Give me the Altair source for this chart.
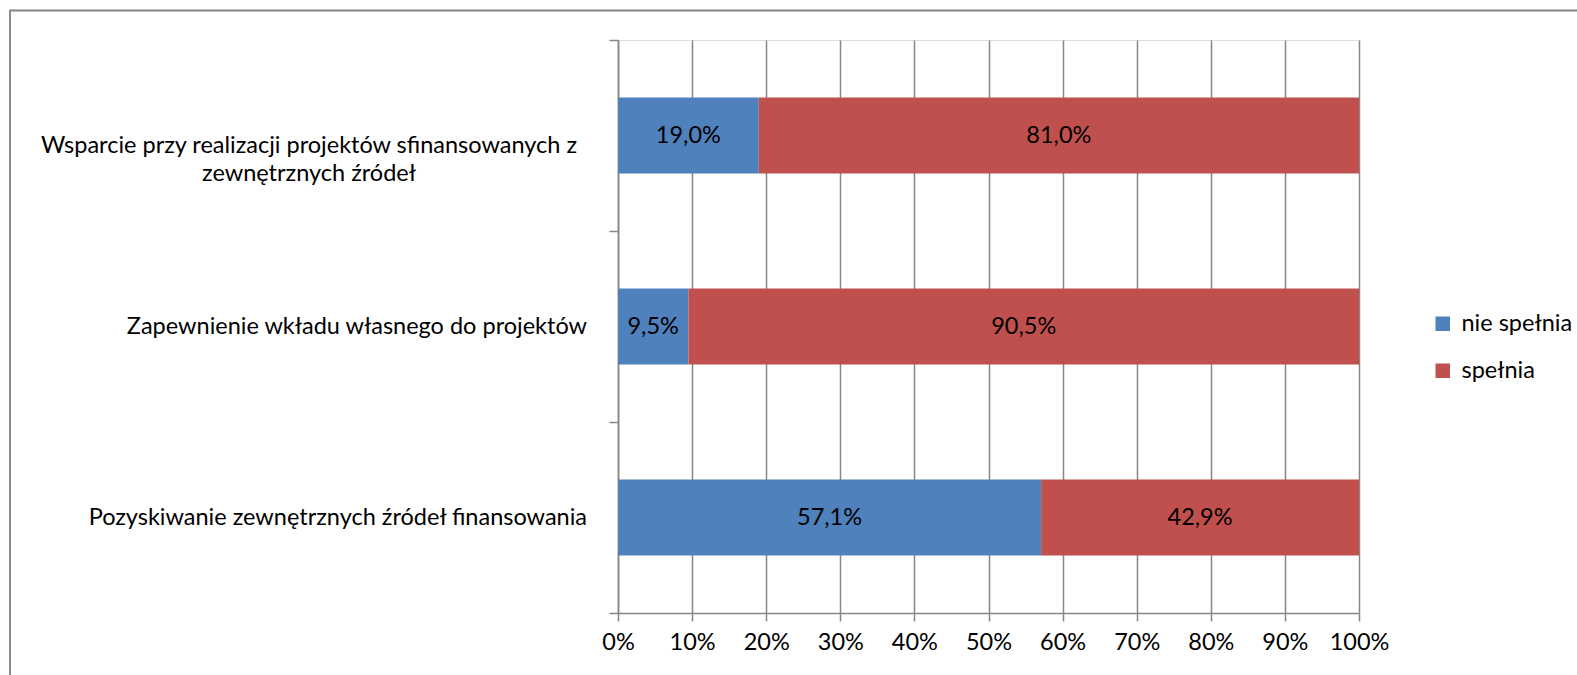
import altair as alt
import pandas as pd

categories = [
    "Wsparcie przy realizacji projektów sfinansowanych z\nzewnętrznych źródeł",
    "Zapewnienie wkładu własnego do projektów",
    "Pozyskiwanie zewnętrznych źródeł finansowania",
]
series = ["nie spełnia", "spełnia"]
nie_spelnia = [19.0, 9.5, 57.1]
spelnia = [81.0, 90.5, 42.9]
x_ticks = [0, 10, 20, 30, 40, 50, 60, 70, 80, 90, 100]
colors = ["#4F81BD", "#C0504D"]

rows = []
for i, c in enumerate(categories):
    rows.append({"category": c, "series": series[0], "value": nie_spelnia[i], "order": 0})
    rows.append({"category": c, "series": series[1], "value": spelnia[i], "order": 1})
df = pd.DataFrame(rows)
cat_df = pd.DataFrame({"category": categories, "multi": ["\n" in c for c in categories]})

FONT = "Lato"
FS = 23.5
GRID = "#868686"
W, H = 741, 573
PL, PT = 618, 40

y_enc = alt.Y("category:N", sort=categories,
              scale=alt.Scale(domain=categories, paddingInner=0, paddingOuter=0),
              axis=alt.Axis(title=None, labels=False, tickBand="extent", tickSize=9,
                            tickColor=GRID, domainColor=GRID, tickWidth=1.5, domainWidth=1.5,
                            grid=False))

x_scale = alt.Scale(domain=[0, 100], nice=False, zero=True)

bars = alt.Chart(df).mark_bar(size=76).encode(
    x=alt.X("value:Q", stack="zero", scale=x_scale,
            axis=alt.Axis(title=None, values=x_ticks, labelExpr="datum.value + '%'",
                          grid=True, gridColor=GRID, gridWidth=1.5, tickColor=GRID,
                          domainColor=GRID, tickWidth=1.5, domainWidth=1.5, tickSize=8,
                          labelFont=FONT, labelFontSize=FS, labelColor="black",
                          labelPadding=9, labelOverlap=False, labelFlush=False,
                          labelBound=False)),
    y=y_enc,
    color=alt.Color("series:N", sort=series,
                    scale=alt.Scale(domain=series, range=colors),
                    legend=alt.Legend(title=None, orient="none", legendX=813, legendY=272,
                                      symbolType="square", symbolSize=210,
                                      symbolStrokeWidth=0, labelFont=FONT,
                                      labelFontSize=FS, labelColor="black",
                                      rowPadding=22, labelOffset=7)),
    order=alt.Order("order:Q"),
)

labels = alt.Chart(df).transform_stack(
    stack="value", groupby=["category"], as_=["v0", "v1"], sort=[alt.SortField("order")]
).transform_calculate(
    mid="(datum.v0 + datum.v1) / 2",
    lab="replace(format(datum.value, '.1f'), '.', ',') + '%'",
).mark_text(font=FONT, fontSize=FS, color="black", baseline="middle", align="center").encode(
    x=alt.X("mid:Q", scale=x_scale),
    y=alt.Y("category:N", sort=categories),
    text="lab:N",
)

cat_single = alt.Chart(cat_df).transform_filter("!datum.multi").mark_text(
    font=FONT, fontSize=FS, color="black", align="right", baseline="middle"
).encode(x=alt.value(-31), y=alt.Y("category:N", sort=categories), text="category:N")

cat_multi = alt.Chart(cat_df).transform_filter("datum.multi").mark_text(
    font=FONT, fontSize=FS, color="black", align="center", baseline="middle",
    lineBreak="\n", lineHeight=28, dy=10
).encode(x=alt.value(-309), y=alt.Y("category:N", sort=categories), text="category:N")

frame = alt.Chart(cat_df).mark_rect(fill=None, stroke="#8a8a8a", strokeWidth=1.5).encode(
    x=alt.value(10 - PL), x2=alt.value(1577 - PL + 10),
    y=alt.value(10.5 - PT), y2=alt.value(675 - PT + 10),
)

chart = alt.layer(frame, bars, labels, cat_single, cat_multi).properties(
    width=W, height=H,
    autosize=alt.AutoSizeParams(type="none"),
    padding={"left": PL, "top": PT, "right": 1577 - PL - W, "bottom": 675 - PT - H},
).configure_view(stroke=None).configure(background="white")

chart.save("out.html", embed_options={"renderer": "svg", "actions": False})
